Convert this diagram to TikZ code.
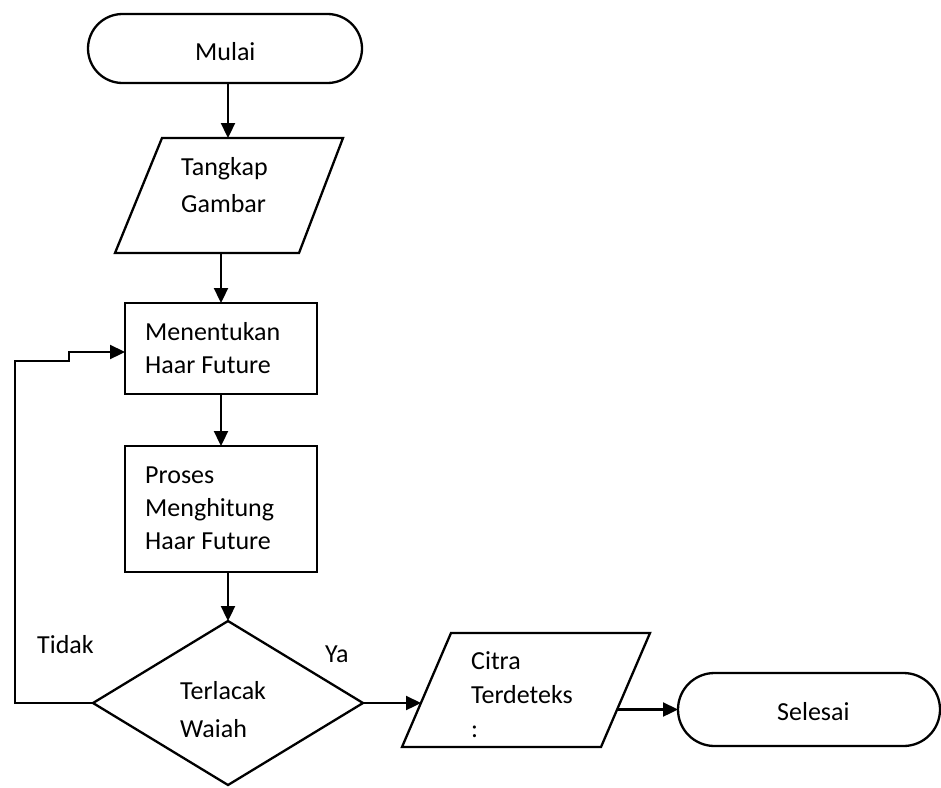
\documentclass[tikz,border=0pt]{standalone}
\usepackage{fontspec}
\setmainfont{Carlito}
\usetikzlibrary{shapes.geometric,shapes.misc,arrows.meta}
\begin{document}
\begin{tikzpicture}[x=1pt,y=-1pt,
  shp/.style={draw,line width=2.3pt,inner sep=0pt,outer sep=0pt},
  term/.style={shp,rounded rectangle,rounded rectangle arc length=180},
  iobox/.style={rectangle,inner sep=0pt,outer sep=0pt},
  iopath/.style={line width=2.3pt,line join=miter},
  procbox/.style={shp,rectangle},
  decbox/.style={shp,diamond},
  txt/.style={anchor=base west,inner sep=0pt,align=left,font=\fontsize{26}{35}\selectfont},
  arr/.style={line width=2.3pt,-{Triangle[length=15pt,width=14pt]}}]
\useasboundingbox (0,0) rectangle (941,787);
% shapes
\node[term,minimum width=274pt,minimum height=69pt] (mulai) at (225,48.5) {};
\node[iobox,minimum width=228pt,minimum height=115pt] (tangkap) at (229,195.5) {};
\draw[iopath] ([xshift=47pt]tangkap.north west) -- (tangkap.north east) -- ([xshift=-44pt]tangkap.south east) -- (tangkap.south west) -- cycle;
\node[procbox,minimum width=192pt,minimum height=91pt] (ment) at (221,348.5) {};
\node[procbox,minimum width=192pt,minimum height=126pt] (proses) at (221,509) {};
\node[decbox,minimum width=270pt,minimum height=164pt,aspect=1.646] (dia) at (228,703) {};
\node[iobox,minimum width=248pt,minimum height=114pt] (citra) at (526,690) {};
\draw[iopath] ([xshift=49pt]citra.north west) -- (citra.north east) -- ([xshift=-49pt]citra.south east) -- (citra.south west) -- cycle;
\node[term,minimum width=262pt,minimum height=73pt] (selesai) at (809,709.5) {};
% texts (base = last line)
\node[txt] (tmulai) at (195,60) {Mulai};
\node[txt,font=\fontsize{26}{37}\selectfont] (ttangkap) at (181,212) {Tangkap\\Gambar};
\node[txt,font=\fontsize{26}{33}\selectfont] (tment) at (145,373) {Menentukan\\Haar Future};
\node[txt,font=\fontsize{26}{33}\selectfont] (tproses) at (145,549) {Proses\\Menghitung\\Haar Future};
\node[txt,font=\fontsize{26}{38}\selectfont] (tdia) at (180,737) {Terlacak\\Waiah};
\node[txt] (ttidak) at (37,653) {Tidak};
\node[txt] (tya) at (325,662) {Ya};
\node[txt,font=\fontsize{26}{34}\selectfont] (tcitra) at (471,737) {Citra\\Terdeteks\\:};
\node[txt] (tselesai) at (777,720) {Selesai};
% loop coordinates
\coordinate (l1) at (15,361);
\coordinate (l2) at (69,361);
\coordinate (l3) at (69,352);
% connectors
\draw[arr] ([xshift=3pt]mulai.south) -- ([xshift=3pt]mulai.south |- tangkap.north);
\draw[arr] (ment.north |- tangkap.south) -- (ment.north);
\draw[arr] (ment.south) -- (proses.north);
\draw[arr] (dia.north |- proses.south) -- (dia.north);
\draw[arr] (dia.west) -| (l1) -- (l2) -- (l3) -- (l3 -| ment.west);
\draw[arr] (dia.east) -- ([xshift=19pt]dia.east -| citra.west);
\draw[arr] ([xshift=-33pt]selesai.west -| citra.east) -- (selesai.west);
\end{tikzpicture}
\end{document}
